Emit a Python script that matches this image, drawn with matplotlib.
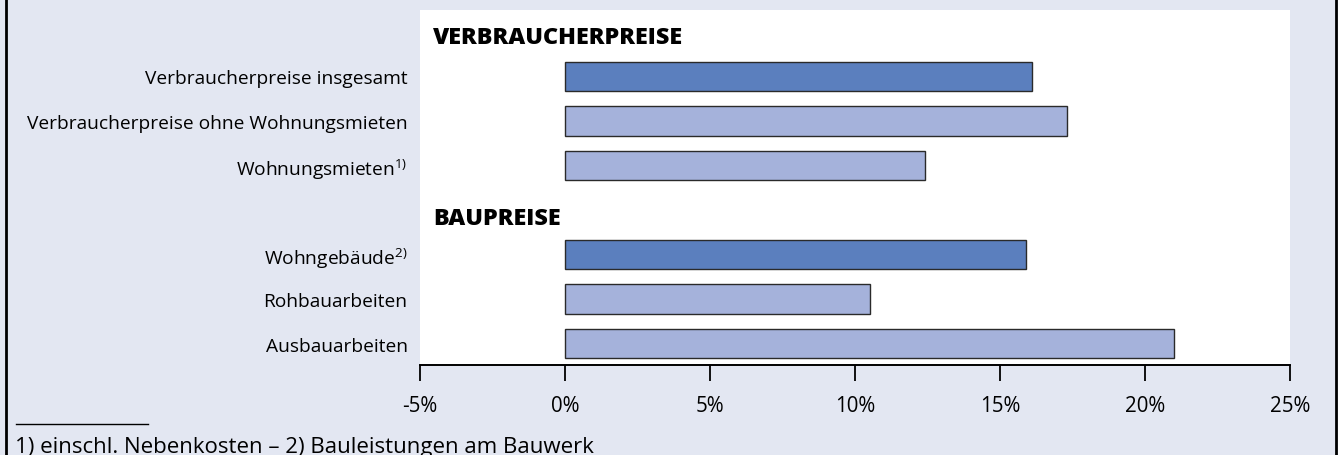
import matplotlib
matplotlib.use("Agg")
import matplotlib.pyplot as plt
from matplotlib.lines import Line2D

plt.rcParams['font.family'] = ['Open Sans', 'DejaVu Sans']

# data
labels = ["Verbraucherpreise insgesamt",
          "Verbraucherpreise ohne Wohnungsmieten",
          "Wohnungsmieten$^{\\mathregular{1)}}$",
          "Wohngebäude$^{\\mathregular{2)}}$",
          "Rohbauarbeiten",
          "Ausbauarbeiten"]
values = [16.1, 17.3, 12.4, 15.9, 10.5, 21.0]
highlight = [True, False, False, True, False, False]
headers = ["VERBRAUCHERPREISE", "BAUPREISE"]
xticks = [-5, 0, 5, 10, 15, 20, 25]
footnote = "1) einschl. Nebenkosten – 2) Bauleistungen am Bauwerk"

bg = '#E3E7F2'
dark = '#5B7FBE'
light = '#A5B2DB'

W, H = 1338, 456
fig = plt.figure(figsize=(W / 100, H / 100), dpi=100)
fig.patch.set_facecolor(bg)

ax = fig.add_axes([420 / W, 1 - 366 / H, (1290 - 420) / W, (366 - 11) / H])
ax.set_facecolor('white')

ypos = [0, 1, 2, 4, 5, 6]
colors = [dark if h else light for h in highlight]
ax.barh(ypos, values, height=0.665, color=colors, edgecolor='#2a2a2a', linewidth=1.0, zorder=3)

ax.set_xlim(-5, 25)
ax.set_ylim(6.483, -1.494)

ax.set_yticks(ypos)
ax.set_yticklabels(labels, fontsize=13.8)
ax.tick_params(axis='y', length=0, pad=9)

ax.set_xticks(xticks)
ax.set_xticklabels([f"{t}%" for t in xticks], fontsize=14.8)
ax.tick_params(axis='x', direction='out', length=11.5, width=1.3, pad=10, color='black')

for s in ['top', 'left', 'right']:
    ax.spines[s].set_visible(False)
ax.spines['bottom'].set_linewidth(1.4)

# section headers
ax.text(-4.55, -0.89, headers[0], fontsize=16.8, fontweight='heavy', va='center', ha='left')
ax.text(-4.55, 3.17, headers[1], fontsize=16.8, fontweight='heavy', va='center', ha='left')

# frame lines left and right
fig.add_artist(Line2D([5.5 / W, 5.5 / W], [0, 1], color='black', lw=2))
fig.add_artist(Line2D([1335.5 / W, 1335.5 / W], [0, 1], color='black', lw=2))

# footnote
fig.add_artist(Line2D([16 / W, 148 / W], [1 - 425 / H, 1 - 425 / H], color='black', lw=1))
fig.text(15 / W, 1 - 453 / H, footnote, fontsize=16, va='baseline', ha='left')

fig.savefig('out.png', dpi=100, facecolor=bg)
